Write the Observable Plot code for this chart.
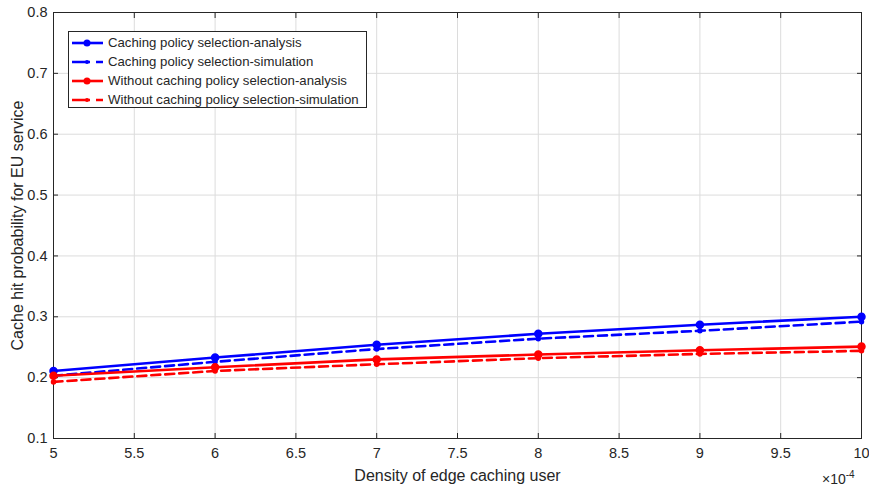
<!DOCTYPE html>
<html>
<head>
<meta charset="utf-8">
<script src="https://cdn.jsdelivr.net/npm/d3@7"></script>
<script src="https://cdn.jsdelivr.net/npm/@observablehq/plot@0.6"></script>
<style>
  html, body { margin: 0; padding: 0; background: #fff; }
  #wrap { position: relative; width: 869px; height: 486px; font-family: "Liberation Sans", Arial, sans-serif; color: #262626; }
  #legend { position: absolute; left: 68px; top: 31px; width: 297px; height: 75px; border: 1px solid #262626; background: #fff; }
  .row { position: absolute; left: 0; height: 19px; display: flex; align-items: center; font-size: 13.2px; color: #262626; white-space: nowrap; }
  .row svg { margin-left: 3px; margin-right: 5px; }
  #exp { position: absolute; left: 822px; top: 469px; font-size: 14px; color: #262626; }
  #exp sup { font-size: 10px; }
</style>
</head>
<body>
<div id="wrap"></div>
<script>
const density = [5, 6, 7, 8, 9, 10];
const xTicks = [5, 5.5, 6, 6.5, 7, 7.5, 8, 8.5, 9, 9.5, 10];
const yTicks = [0.1, 0.2, 0.3, 0.4, 0.5, 0.6, 0.7, 0.8];
const seriesNames = [
  "Caching policy selection-analysis",
  "Caching policy selection-simulation",
  "Without caching policy selection-analysis",
  "Without caching policy selection-simulation"
];
const seriesColors = ["#0000ff", "#0000ff", "#ff0000", "#ff0000"];
const seriesDashed = [false, true, false, true];
const blueAnalysis = [0.211, 0.233, 0.254, 0.272, 0.287, 0.300];
const blueSimulation = [0.203, 0.226, 0.247, 0.264, 0.277, 0.292];
const redAnalysis = [0.203, 0.217, 0.230, 0.238, 0.245, 0.251];
const redSimulation = [0.193, 0.211, 0.222, 0.232, 0.239, 0.244];

const allValues = [blueAnalysis, blueSimulation, redAnalysis, redSimulation];
const rows = [];
allValues.forEach((vals, s) => vals.forEach((v, i) => rows.push({series: seriesNames[s], s, x: density[i], y: v})));

const fmt = d => String(+d.toFixed(2));
const marks = [
  Plot.gridX(xTicks, {stroke: "#dcdcdc", strokeOpacity: 1}),
  Plot.gridY(yTicks, {stroke: "#dcdcdc", strokeOpacity: 1}),
  Plot.axisX(xTicks, {tickSize: -5, tickPadding: 14, fontSize: 14, tickFormat: fmt, label: "Density of edge caching user", labelAnchor: "center", labelOffset: 42, labelArrow: "none"}),
  Plot.axisX(xTicks, {anchor: "top", tickSize: -5, tickFormat: () => "", label: null}),
  Plot.axisY(yTicks, {tickSize: -5, tickPadding: 11, fontSize: 14, tickFormat: fmt, label: "Cache hit probability for EU service", labelAnchor: "center", labelOffset: 42, labelArrow: "none"}),
  Plot.axisY(yTicks, {anchor: "right", tickSize: -5, tickFormat: () => "", label: null}),
  Plot.frame({stroke: "#262626"})
];
seriesNames.forEach((name, s) => {
  const d = rows.filter(r => r.s === s);
  marks.push(Plot.line(d, {x: "x", y: "y", stroke: seriesColors[s], strokeWidth: 2.6, strokeDasharray: seriesDashed[s] ? "9,5" : null}));
  marks.push(Plot.dot(d, {x: "x", y: "y", fill: seriesColors[s], stroke: seriesColors[s], r: seriesDashed[s] ? 2 : 3.5}));
});

const chart = Plot.plot({
  width: 869,
  height: 486,
  marginLeft: 53,
  marginRight: 8,
  marginTop: 12,
  marginBottom: 48,
  x: {domain: [5, 10], label: null},
  y: {domain: [0.1, 0.8], label: null},
  style: {fontFamily: "'Liberation Sans', Arial, sans-serif", fontSize: "14px", color: "#262626", background: "#fff"},
  marks
});
chart.querySelectorAll('[aria-label="x-axis tick label"] text, [aria-label="y-axis tick label"] text').forEach(t => {
  t.style.fontSize = "14.5px";
});
chart.querySelectorAll('[aria-label="x-axis label"] text, [aria-label="y-axis label"] text').forEach(t => {
  t.style.fontSize = "16px";
});
const wrap = document.getElementById("wrap");
wrap.appendChild(chart);

const legend = document.createElement("div");
legend.id = "legend";
seriesNames.forEach((name, s) => {
  const row = document.createElement("div");
  row.className = "row";
  row.style.top = (1 + s * 19) + "px";
  const ns = "http://www.w3.org/2000/svg";
  const svg = document.createElementNS(ns, "svg");
  svg.setAttribute("width", "31"); svg.setAttribute("height", "10");
  const line = document.createElementNS(ns, "line");
  line.setAttribute("x1", "0"); line.setAttribute("x2", "31");
  line.setAttribute("y1", "5"); line.setAttribute("y2", "5");
  line.setAttribute("stroke", seriesColors[s]); line.setAttribute("stroke-width", "2.6");
  if (seriesDashed[s]) line.setAttribute("stroke-dasharray", "18,6,8");
  svg.appendChild(line);
  const c = document.createElementNS(ns, "circle");
  c.setAttribute("cx", "15"); c.setAttribute("cy", "5"); c.setAttribute("r", seriesDashed[s] ? "2" : "3.5");
  c.setAttribute("fill", seriesColors[s]);
  svg.appendChild(c);
  row.appendChild(svg);
  const t = document.createElement("span");
  t.textContent = name;
  row.appendChild(t);
  legend.appendChild(row);
});
wrap.appendChild(legend);

const exp = document.createElement("div");
exp.id = "exp";
exp.innerHTML = "×10<sup>-4</sup>";
wrap.appendChild(exp);
</script>
</body>
</html>
